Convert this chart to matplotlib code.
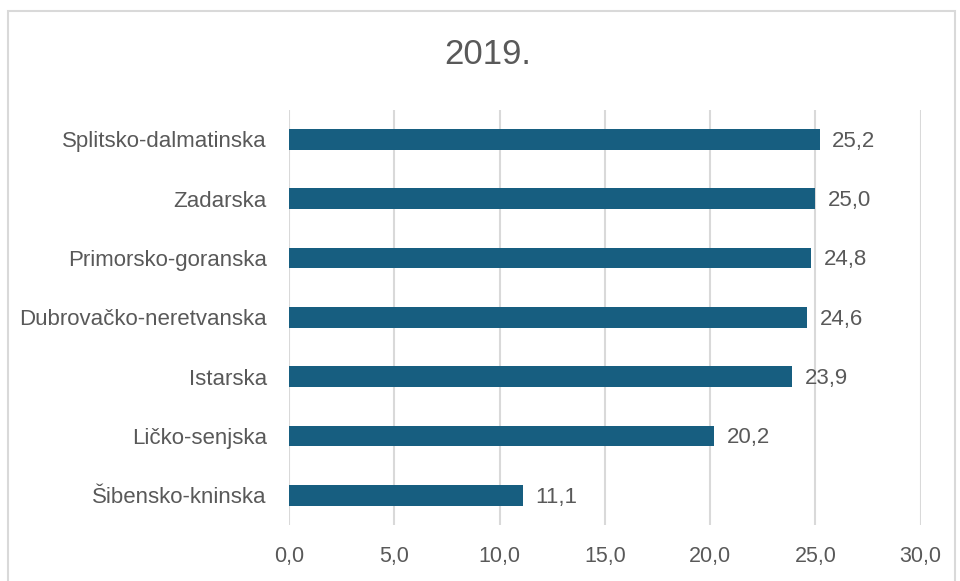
import matplotlib
matplotlib.use("Agg")
import matplotlib.pyplot as plt
from matplotlib.patches import Rectangle

# data, top to bottom as in the chart
zupanije = ["Splitsko-dalmatinska", "Zadarska", "Primorsko-goranska",
            "Dubrovačko-neretvanska", "Istarska", "Ličko-senjska",
            "Šibensko-kninska"]
vrijednosti = [25.2, 25.0, 24.8, 24.6, 23.9, 20.2, 11.1]
x_ticks = [0, 5, 10, 15, 20, 25, 30]

bar_color = "#175E80"
text_color = "#595959"
grid_color = "#D9D9D9"

plt.rcParams['font.family'] = ['Liberation Sans', 'DejaVu Sans']

fig = plt.figure(figsize=(9.6, 5.81), dpi=100)
ax = fig.add_axes([0.301, 0.0964, 0.658, 0.7146])

# chart border
fig.patches.append(Rectangle((8 / 960, -0.05), 947 / 960, 1 - 11 / 581 + 0.05,
                             transform=fig.transFigure, fill=False,
                             edgecolor="#D9D9D9", linewidth=1.5))

pos = list(range(len(zupanije)))[::-1]
ax.barh(pos, vrijednosti, height=0.35, color=bar_color, zorder=3)

for p, v in zip(pos, vrijednosti):
    ax.text(v + 0.6, p - 0.03, f"{v:.1f}".replace(".", ","), va="center",
            ha="left", fontsize=16, color=text_color)

ax.set_xlim(0, 30)
ax.set_ylim(-0.5, len(zupanije) - 0.5)
ax.set_xticks(x_ticks)
ax.set_xticklabels([f"{t:.1f}".replace(".", ",") for t in x_ticks],
                   fontsize=15.5, color=text_color)
ax.set_yticks(pos)
ax.set_yticklabels(zupanije, fontsize=16, color=text_color)
ax.tick_params(axis="both", length=0)
ax.tick_params(axis="x", pad=15)
ax.tick_params(axis="y", pad=16)
ax.grid(axis="x", color=grid_color, linewidth=1.5, zorder=0)
for s in ax.spines.values():
    s.set_visible(False)

fig.text(487.5 / 960, 1 - 55 / 581, "2019.", ha="center", va="center",
         fontsize=25, color=text_color)

fig.savefig("out.png", dpi=100)
